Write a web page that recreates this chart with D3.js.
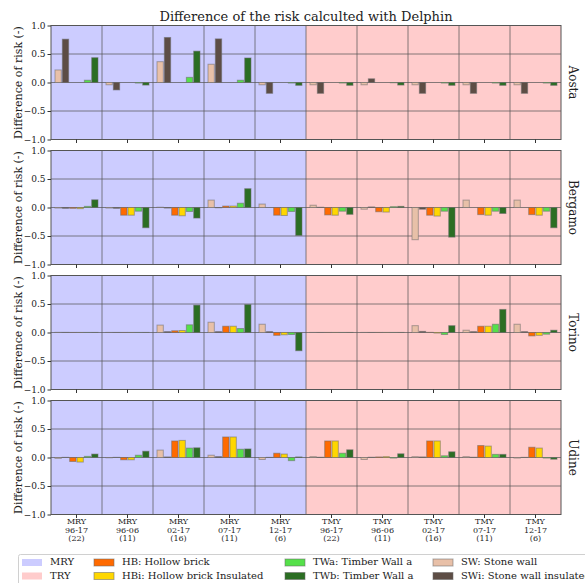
<!DOCTYPE html>
<html><head><meta charset="utf-8">
<script src="https://cdn.jsdelivr.net/npm/d3@7"></script>
<style>body{margin:0;background:#fff}svg{display:block}text{font-family:"DejaVu Serif",serif;fill:#222}</style>
</head><body>
<script>
const title = "Difference of the risk calculted with Delphin";
const cities = ["Aosta", "Bergamo", "Torino", "Udine"];
const groupTypes = ["MRY","MRY","MRY","MRY","MRY","TMY","TMY","TMY","TMY","TMY"];
const groupPeriods = ["96-17","96-06","02-17","07-17","12-17","96-17","96-06","02-17","07-17","12-17"];
const groupCounts = ["(22)","(11)","(16)","(11)","(6)","(22)","(11)","(16)","(11)","(6)"];
const groupBg = ["MRY","MRY","MRY","MRY","MRY","TRY","TRY","TRY","TRY","TRY"];
const walls = ["SW","SWi","HB","HBi","TWa","TWb"];
const wallLabels = {HB:"HB: Hollow brick",HBi:"HBi: Hollow brick Insulated",TWa:"TWa: Timber Wall a",TWb:"TWb: Timber Wall a",SW:"SW: Stone wall",SWi:"SWi: Stone wall insulated"};
const yTicks = [-1.0,-0.5,0.0,0.5,1.0];
// values[city][group] = [SW, SWi, HB, HBi, TWa, TWb]
const aosta = [
 [0.22,0.76,0,0,0.04,0.435],[-0.04,-0.13,0,0,-0.01,-0.045],[0.365,0.79,0,0,0.09,0.55],[0.32,0.765,0,0,0.04,0.43],[-0.04,-0.19,0,0,-0.01,-0.05],
 [-0.04,-0.19,0,0,-0.01,-0.05],[-0.04,0.065,0,0,-0.005,-0.045],[-0.04,-0.19,0,0,-0.01,-0.05],[-0.04,-0.19,0,0,-0.01,-0.05],[-0.04,-0.19,0,0,-0.01,-0.05]];
const bergamo = [
 [-0.01,-0.015,-0.015,-0.02,0.02,0.135],[-0.01,-0.015,-0.135,-0.135,-0.065,-0.355],[0.005,-0.01,-0.135,-0.145,-0.07,-0.185],[0.13,-0.005,0.025,0.025,0.075,0.33],[0.06,0,-0.135,-0.14,-0.07,-0.49],
 [0.04,0.005,-0.13,-0.135,-0.065,-0.12],[-0.03,0.01,-0.075,-0.08,0.015,0.02],[-0.565,-0.03,-0.135,-0.15,-0.065,-0.52],[0.13,0,-0.125,-0.135,-0.065,-0.105],[0.13,0,-0.125,-0.135,-0.065,-0.355]];
const torino = [
 [0.003,0.003,0.002,0.002,0.002,0.002],[0.002,0.002,0.002,0.002,0.002,0.002],[0.13,0.015,0.03,0.035,0.135,0.48],[0.18,0.015,0.11,0.11,0.07,0.49],[0.145,0.015,-0.05,-0.04,-0.035,-0.32],
 [0.002,0.002,0.002,0.002,0.002,0.002],[0.002,0.002,0.002,0.002,0.002,0.002],[0.12,0.02,0.003,-0.01,-0.035,0.12],[0.04,0.015,0.11,0.11,0.145,0.405],[0.145,0.015,-0.06,-0.05,-0.03,0.04]];
const udine = [
 [-0.015,0.003,-0.07,-0.08,0.02,0.06],[-0.005,0.003,-0.04,-0.04,0.04,0.11],[0.13,0.01,0.29,0.3,0.165,0.17],[0.04,0.015,0.36,0.36,0.145,0.15],[-0.035,0.003,0.075,0.06,-0.055,0.01],
 [0.015,0.005,0.29,0.29,0.075,0.135],[-0.035,0.005,0.01,0.015,-0.01,0.065],[0.015,0.01,0.29,0.29,0.03,0.1],[0.015,0.005,0.21,0.2,0.055,0.055],[-0.01,0.003,0.18,0.165,-0.01,-0.03]];
const cityValues = [aosta, bergamo, torino, udine];
const wallColors = {SW:"#e8c0a8",SWi:"#5d4d45",HB:"#ff6a00",HBi:"#ffd700",TWa:"#55e04a",TWb:"#2b6e23"};
const bgColors = {MRY:"#ccccff",TRY:"#ffcccc"};

const W=585,H=583;
const svg=d3.select("body").append("svg").attr("width",W).attr("height",H);
const left=51,right=561;
const panelTops=[25.5,150.5,275.5,400.5], panelH=114;
const groupKeys=d3.range(groupTypes.length);
const x=d3.scaleBand().domain(groupKeys).range([left,right]).padding(0);
const xb=d3.scaleBand().domain(walls).range([4,x.bandwidth()-4]).paddingInner(0.14);

svg.append("text").attr("x",(left+right)/2).attr("y",21).attr("text-anchor","middle").attr("font-size",13).text(title);

cities.forEach((city,ci)=>{
  const top=panelTops[ci];
  const y=d3.scaleLinear().domain([-1,1]).range([top+panelH,top]);
  const g=svg.append("g");
  // backgrounds
  g.selectAll("rect.bg").data(groupKeys).join("rect").attr("class","bg")
    .attr("x",d=>x(d)).attr("y",top).attr("width",x.bandwidth()).attr("height",panelH)
    .attr("fill",d=>bgColors[groupBg[d]]);
  // grid
  g.selectAll("line.hg").data([-0.5,0,0.5]).join("line").attr("class","hg")
    .attr("x1",left).attr("x2",right).attr("y1",d=>y(d)).attr("y2",d=>y(d))
    .attr("stroke","#555").attr("stroke-width",0.9).attr("stroke-opacity",0.8);
  g.selectAll("line.vg").data(groupKeys.slice(1)).join("line").attr("class","vg")
    .attr("x1",d=>x(d)).attr("x2",d=>x(d)).attr("y1",top).attr("y2",top+panelH)
    .attr("stroke","#555").attr("stroke-width",0.9).attr("stroke-opacity",0.8);
  // bars
  const vals=cityValues[ci];
  groupKeys.forEach(gi=>{
    g.selectAll(null).data(walls.map((w,wi)=>({w,v:vals[gi][wi]}))).join("rect")
      .attr("x",d=>x(gi)+xb(d.w)).attr("width",xb.bandwidth())
      .attr("y",d=>y(Math.max(0,d.v))).attr("height",d=>Math.abs(y(d.v)-y(0)))
      .attr("fill",d=>wallColors[d.w]).attr("stroke","#6a6a6a").attr("stroke-opacity",0.55).attr("stroke-width",1);
  });
  // frame
  g.append("rect").attr("x",left).attr("y",top).attr("width",right-left).attr("height",panelH)
    .attr("fill","none").attr("stroke","#555").attr("stroke-width",1);
  // y axis
  const ya=d3.axisLeft(y).tickValues(yTicks).tickSize(3.5).tickPadding(2)
    .tickFormat(d=>d3.format(".1f")(d).replace("-","\u2212"));
  const yg=g.append("g").attr("transform",`translate(${left},0)`).call(ya);
  yg.select(".domain").remove();
  yg.selectAll("line").attr("stroke","#333");
  yg.selectAll("text").attr("font-size",9).attr("font-family","DejaVu Serif").attr("fill","#333");
  // x axis ticks
  const xa=d3.axisBottom(x).tickSize(3.5).tickFormat("");
  const xg=g.append("g").attr("transform",`translate(0,${top+panelH})`).call(xa);
  xg.select(".domain").remove();
  xg.selectAll("line").attr("stroke","#333");
  // y label
  svg.append("text").attr("transform",`translate(19,${top+panelH/2}) rotate(-90)`)
    .attr("text-anchor","middle").attr("dominant-baseline","middle").attr("font-size",11).text("Difference of risk (-)");
  // city label
  svg.append("text").attr("transform",`translate(572,${top+panelH/2}) rotate(90)`)
    .attr("text-anchor","middle").attr("dominant-baseline","middle").attr("font-size",12).text(city);
});

// x labels
const xl=svg.append("g");
groupKeys.forEach(gi=>{
  const cx=x(gi)+x.bandwidth()/2;
  [groupTypes[gi],groupPeriods[gi],groupCounts[gi]].forEach((t,li)=>{
    xl.append("text").attr("x",cx).attr("y",524+li*8.6).attr("text-anchor","middle").attr("font-size",8).attr("fill","#222").text(t);
  });
});

// legend
const lg=svg.append("g");
lg.append("rect").attr("x",18.5).attr("y",554.5).attr("width",600).attr("height",40).attr("rx",2)
  .attr("fill","#fff").attr("stroke","#d0d0d0").attr("stroke-width",1);
const legendCols=[
  {x:22, items:[{c:bgColors.MRY,t:"MRY",s:false},{c:bgColors.TRY,t:"TRY",s:false}]},
  {x:94, items:[{c:wallColors.HB,t:wallLabels.HB,s:true},{c:wallColors.HBi,t:wallLabels.HBi,s:true}]},
  {x:285, items:[{c:wallColors.TWa,t:wallLabels.TWa,s:true},{c:wallColors.TWb,t:wallLabels.TWb,s:true}]},
  {x:433, items:[{c:wallColors.SW,t:wallLabels.SW,s:true},{c:wallColors.SWi,t:wallLabels.SWi,s:true}]}
];
legendCols.forEach(col=>{
  col.items.forEach((it,ri)=>{
    const yy=559+ri*13.5;
    lg.append("rect").attr("x",col.x).attr("y",yy).attr("width",20).attr("height",7)
      .attr("fill",it.c).attr("stroke",it.s?"#6a6a6a":"none").attr("stroke-opacity",0.55);
    lg.append("text").attr("x",col.x+28).attr("y",yy+3.5).attr("dominant-baseline","middle")
      .attr("font-size",10).attr("fill","#222").text(it.t);
  });
});
</script>
</body></html>
